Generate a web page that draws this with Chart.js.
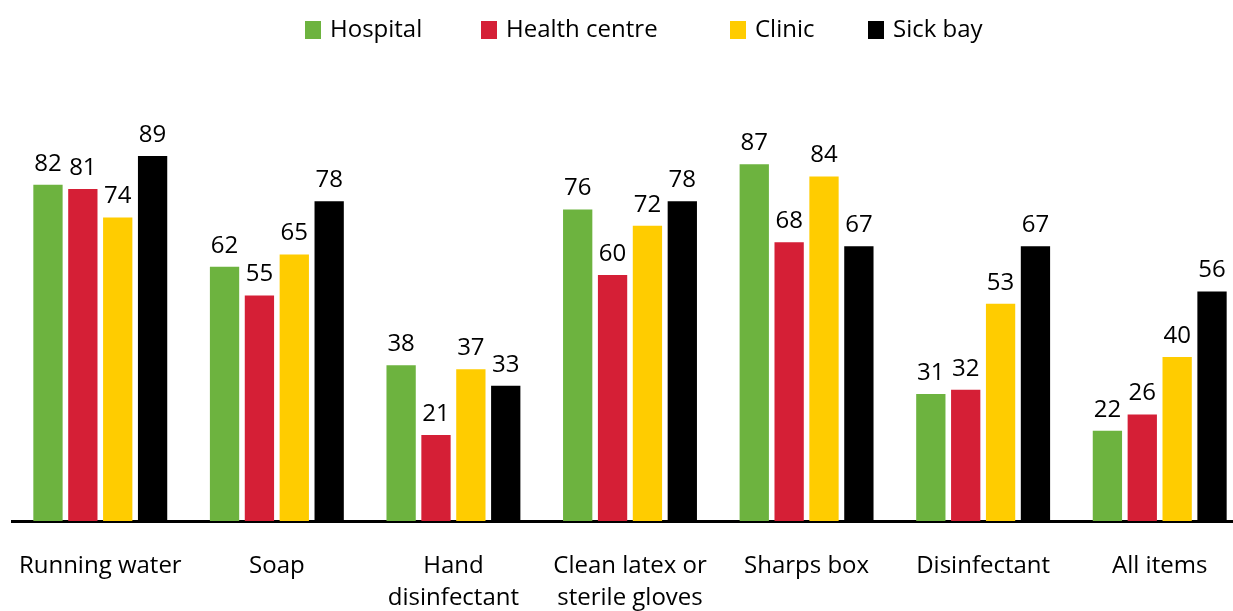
<!DOCTYPE html>
<html>
<head>
<meta charset="utf-8">
<script src="https://cdn.jsdelivr.net/npm/chart.js@4/dist/chart.umd.min.js"></script>
<style>
  html, body { margin: 0; padding: 0; background: #fff; overflow: hidden; }
  #wrap { position: relative; width: 1248px; height: 611px; }
  #legend { position: absolute; top: 14px; left: 0; width: 1233px; height: 30px;
            font-family: 'Open Sans', 'Noto Sans', sans-serif; font-size: 24px; color: #000; }
  #legend .item { position: absolute; top: 0; white-space: nowrap; line-height: 28px; }
  #legend .box { display: inline-block; width: 16px; height: 18px; margin-right: 9px; vertical-align: -2px; }
  #legend .item:nth-child(1) { left: 305px; }
  #legend .item:nth-child(2) { left: 481px; }
  #legend .item:nth-child(3) { left: 730px; }
  #legend .item:nth-child(4) { left: 868px; }
</style>
</head>
<body>
<div id="wrap">
  <canvas id="chart"></canvas>
  <div id="legend"></div>
</div>
<script>
// categories and series values
const categories = [
    "Running water",
    "Soap",
    ["Hand", "disinfectant"],
    ["Clean latex or", "sterile gloves"],
    "Sharps box",
    "Disinfectant",
    "All items"
];
const hospital     = [82, 62, 38, 76, 87, 31, 22];
const healthCentre = [81, 55, 21, 60, 68, 32, 26];
const clinic       = [74, 65, 37, 72, 84, 53, 40];
const sickBay      = [89, 78, 33, 78, 67, 67, 56];

const FONT = "'Open Sans', 'Noto Sans', sans-serif";

// value labels above each bar
const valueLabels = {
    id: "valueLabels",
    afterDatasetsDraw(chart) {
        const ctx = chart.ctx;
        ctx.save();
        ctx.font = "24px " + FONT;
        ctx.fillStyle = "#000";
        ctx.textAlign = "center";
        ctx.textBaseline = "bottom";
        chart.data.datasets.forEach((ds, i) => {
            chart.getDatasetMeta(i).data.forEach((bar, j) => {
                ctx.fillText(ds.data[j], bar.x, bar.y - 9);
            });
        });
        ctx.restore();
    }
};

const chart = new Chart(document.getElementById("chart"), {
    type: "bar",
    data: {
        labels: categories,
        datasets: [
            { label: "Hospital", data: hospital, backgroundColor: "#6db33f" },
            { label: "Health centre", data: healthCentre, backgroundColor: "#d51f36" },
            { label: "Clinic", data: clinic, backgroundColor: "#ffcc00" },
            { label: "Sick bay", data: sickBay, backgroundColor: "#000000" }
        ]
    },
    options: {
        responsive: true,
        maintainAspectRatio: false,
        animation: false,
        datasets: {
            bar: { categoryPercentage: 0.79, barPercentage: 0.84 }
        },
        layout: { padding: { left: 12, right: 0, top: 111, bottom: 0 } },
        plugins: {
            legend: { display: false },
            tooltip: { enabled: false }
        },
        scales: {
            x: {
                grid: { display: false, drawTicks: false },
                border: { display: true, color: "#000", width: 3 },
                afterFit: scale => {
                    scale.height = 90;
                    // keep the label padding from squeezing the plot sideways
                    scale.paddingLeft = 0;
                    scale.paddingRight = 0;
                },
                ticks: {
                    color: "#000",
                    padding: 29,
                    maxRotation: 0,
                    autoSkip: false,
                    font: { family: FONT, size: 24, lineHeight: 1.33 }
                }
            },
            y: {
                display: false,
                min: 0,
                max: 100
            }
        }
    },
    plugins: [valueLabels]
});

// HTML legend built from the datasets
const legendEl = document.getElementById("legend");
chart.data.datasets.forEach(ds => {
    const item = document.createElement("span");
    item.className = "item";
    item.innerHTML = `<span class="box" style="background:${ds.backgroundColor}"></span>${ds.label}`;
    legendEl.appendChild(item);
});
</script>
</body>
</html>
